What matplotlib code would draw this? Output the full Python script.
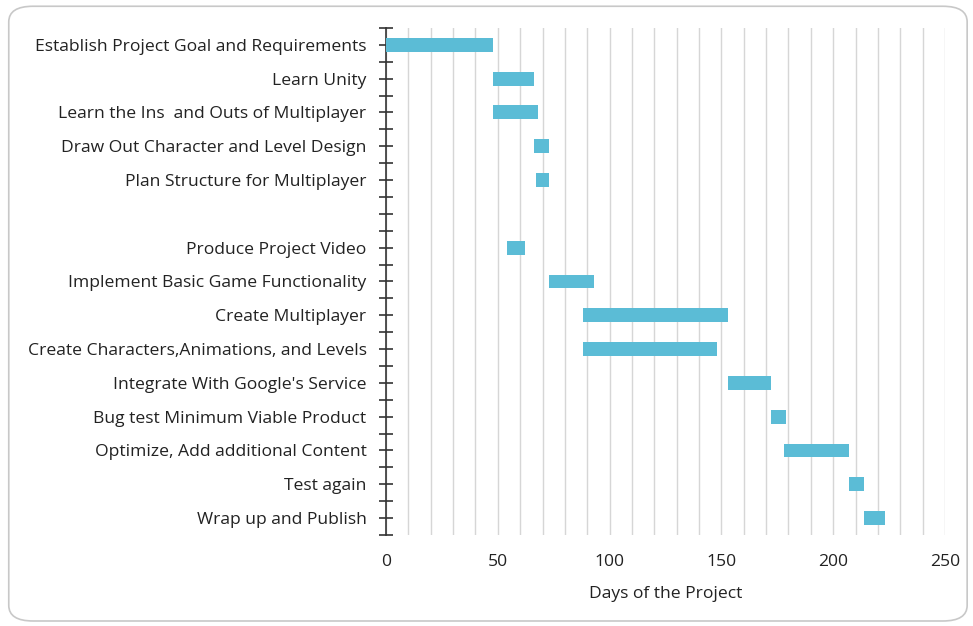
import matplotlib.pyplot as plt
import numpy as np
from matplotlib.patches import FancyBboxPatch

plt.rcParams['font.family'] = ['Open Sans', 'DejaVu Sans']

tasks = ["Establish Project Goal and Requirements", "Learn Unity",
         "Learn the Ins  and Outs of Multiplayer", "Draw Out Character and Level Design",
         "Plan Structure for Multiplayer", "", "Produce Project Video",
         "Implement Basic Game Functionality", "Create Multiplayer",
         "Create Characters,Animations, and Levels", "Integrate With Google's Service",
         "Bug test Minimum Viable Product", "Optimize, Add additional Content",
         "Test again", "Wrap up and Publish"]
start = [0, 48, 48, 66, 67, 0, 54, 73, 88, 88, 153, 172, 178, 207, 214]
days = [48, 18, 20, 7, 6, 0, 8, 20, 65, 60, 19, 7, 29, 7, 9]

fig = plt.figure(figsize=(9.73, 6.26), dpi=100)
frame = FancyBboxPatch((0.009, 0.008), 0.985, 0.982, boxstyle="round,pad=0,rounding_size=0.025",
                       transform=fig.transFigure, fc='white', ec='#c8c8c8', lw=1.2, zorder=-10)
fig.patches.append(frame)
ax = fig.add_axes([0.3967, 0.1454, 0.5745, 0.81])
ax.set_zorder(5)
ax.patch.set_alpha(0)

y = np.arange(len(tasks))
ax.barh(y, days, left=start, height=0.41, color='#5bbcd6', zorder=3)

ax.set_ylim(len(tasks) - 0.5, -0.5)
ax.set_xlim(0, 250)
ax.set_yticks(y)
ax.set_yticklabels(tasks, fontsize=12.6, color='#222222')
ax.set_yticks(np.arange(len(tasks) + 1) - 0.5, minor=True)
ax.tick_params(axis='y', which='both', direction='inout', length=10, width=1.2, color='#333333', pad=9)
ax.set_xticks(np.arange(0, 251, 50))
ax.set_xticks(np.arange(10, 251, 10), minor=True)
ax.tick_params(axis='x', which='both', length=0, labelsize=12.6, labelcolor='#222222', pad=14)
ax.grid(True, axis='x', which='both', color='#d6d6d6', lw=1, zorder=0)
for s in ['top', 'right', 'bottom']:
    ax.spines[s].set_visible(False)
ax.spines['left'].set_color('#333333')
ax.spines['left'].set_linewidth(1.2)
ax.set_xlabel("Days of the Project", fontsize=12.6, color='#222222', labelpad=11)

fig.savefig("out.png", dpi=100)
